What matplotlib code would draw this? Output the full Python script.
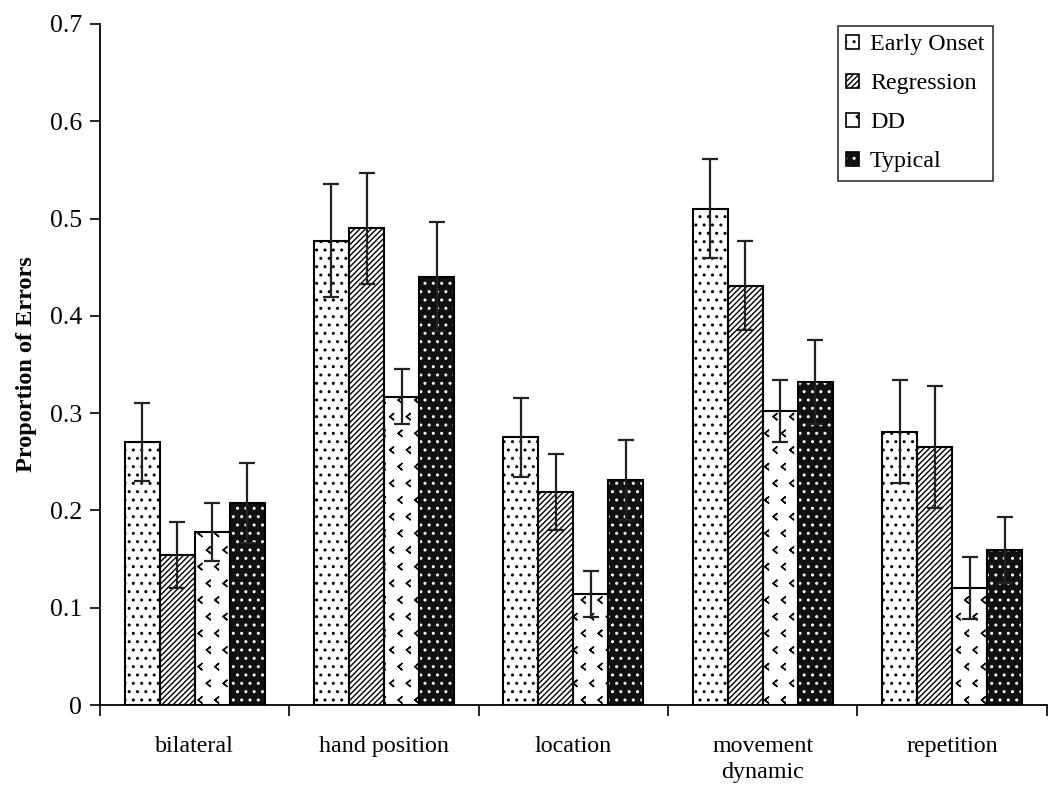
import numpy as np
import matplotlib
matplotlib.use("Agg")
import matplotlib.pyplot as plt
import matplotlib.hatch as mhatch
from matplotlib.path import Path
from matplotlib.patches import Patch
from matplotlib.legend_handler import HandlerTuple

categories = ["bilateral", "hand position", "location", "movement\ndynamic", "repetition"]
series = ["Early Onset", "Regression", "DD", "Typical"]
early_onset = [0.270, 0.477, 0.275, 0.510, 0.281]
regression = [0.154, 0.490, 0.219, 0.431, 0.265]
dd = [0.178, 0.317, 0.114, 0.302, 0.120]
typical = [0.208, 0.440, 0.231, 0.332, 0.159]
early_onset_err = [0.040, 0.058, 0.041, 0.051, 0.053]
regression_err = [0.034, 0.057, 0.039, 0.046, 0.063]
dd_err = [0.030, 0.028, 0.024, 0.032, 0.032]
typical_err = [0.041, 0.056, 0.041, 0.043, 0.034]
yticks = [0, 0.1, 0.2, 0.3, 0.4, 0.5, 0.6, 0.7]

# custom chevron hatch for DD
try:
    class Chevrons(mhatch.Shapes):
        filled = False
        size = 0.38
        def __init__(self, hatch, density):
            self.num_rows = hatch.count('<') * density
            self.shape_vertices = np.array([[0.3, 0.5], [-0.3, 0.0], [0.3, -0.5]])
            self.shape_codes = np.array([Path.MOVETO, Path.LINETO, Path.LINETO], dtype=Path.code_type)
            super().__init__(hatch, density)
    if Chevrons not in mhatch._hatch_types:
        mhatch._hatch_types.append(Chevrons)
    dd_hatch = '<'
except Exception:
    dd_hatch = 'xx'

plt.rcParams['font.family'] = ['Liberation Serif', 'DejaVu Serif']
plt.rcParams['hatch.linewidth'] = 1.0

fig = plt.figure(figsize=(10.5, 7.98), dpi=100)
ax = fig.add_axes([0.0952, 0.1165, 0.9018, 0.8535])

x = np.arange(len(categories))
w = 0.185
offsets = np.array([-1.5, -0.5, 0.5, 1.5]) * w
vals = [early_onset, regression, dd, typical]
errs = [early_onset_err, regression_err, dd_err, typical_err]
hatches = ['..', '//////', dd_hatch, '..']
faces = ['white', 'white', 'white', '#111111']
hcols = ['black', 'black', 'black', 'white']

handles = []
for i in range(4):
    ax.bar(x + offsets[i], vals[i], w, color=faces[i], edgecolor=hcols[i],
           hatch=hatches[i], linewidth=0, zorder=2)
    ax.bar(x + offsets[i], vals[i], w, fill=False, edgecolor='black',
           linewidth=1.5, zorder=3)
    ax.errorbar(x + offsets[i], vals[i], yerr=errs[i], fmt='none', ecolor='#222222',
                elinewidth=1.6, capsize=6, capthick=1.6, zorder=4)
    h1 = Patch(facecolor=faces[i], edgecolor=hcols[i], hatch=hatches[i], linewidth=0)
    h2 = Patch(fill=False, edgecolor='black', linewidth=1.2)
    handles.append((h1, h2))

ax.set_xlim(-0.5, len(categories) - 0.5)
ax.set_ylim(0, 0.7)
ax.set_yticks(yticks)
ax.set_yticklabels(['0' if v == 0 else f'{v:.1f}' for v in yticks])
ax.set_xticks(np.arange(len(categories) + 1) - 0.5)
ax.set_xticklabels([])
ax.set_xticks(x, minor=True)
ax.set_xticklabels(categories, minor=True, linespacing=1.35)
ax.tick_params(axis='x', which='major', direction='out', length=8, width=1.2)
ax.tick_params(axis='x', which='minor', length=0, pad=22, labelsize=17.3)
ax.tick_params(axis='y', direction='out', length=7, width=1.2, pad=6, labelsize=18.5)
for s in ['top', 'right']:
    ax.spines[s].set_visible(False)
for s in ['left', 'bottom']:
    ax.spines[s].set_linewidth(1.3)

ax.set_ylabel('Proportion of Errors', fontsize=17.5, fontweight='bold', labelpad=9)

leg = ax.legend(handles, series, handler_map={tuple: HandlerTuple(ndivide=1)},
                loc='upper right', bbox_to_anchor=(0.943, 0.997), fontsize=17.3,
                frameon=True, fancybox=False, edgecolor='black',
                handlelength=0.55, handleheight=0.55, handletextpad=0.45,
                labelspacing=0.75, borderpad=0.35, borderaxespad=0)
leg.get_frame().set_linewidth(1.2)

fig.savefig('out.png', dpi=100)
